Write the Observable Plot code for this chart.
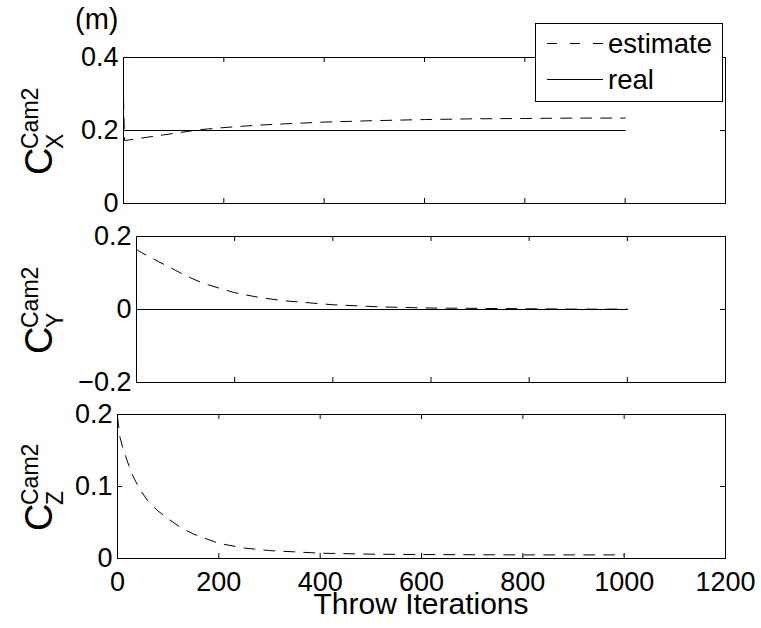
<!DOCTYPE html>
<html>
<head>
<meta charset="utf-8">
<script src="https://cdn.jsdelivr.net/npm/d3@7"></script>
<script src="https://cdn.jsdelivr.net/npm/@observablehq/plot@0.6"></script>
<style>
  html, body { margin: 0; padding: 0; background: #fff; }
  #fig { position: relative; width: 761px; height: 628px; background: #fff; overflow: hidden;
         font-family: "Liberation Sans", Arial, Helvetica, sans-serif; }
  #fig svg { position: absolute; left: 0; top: 0; }
</style>
</head>
<body>
<div id="fig"></div>
<script>
// ---------------- data ----------------
const iters = [0, 2, 5, 10, 20, 30, 45, 60, 80, 100, 125, 150, 200, 250, 300, 400, 500, 600, 700, 800, 900, 1000];
const estX  = [0.29, 0.173, 0.173, 0.174, 0.176, 0.178, 0.181, 0.184, 0.188, 0.192, 0.197, 0.202, 0.208, 0.213, 0.217, 0.223, 0.227, 0.230, 0.232, 0.233, 0.234, 0.234];
const estY  = [0.165, 0.163, 0.160, 0.156, 0.149, 0.142, 0.131, 0.121, 0.107, 0.093, 0.078, 0.066, 0.046, 0.033, 0.024, 0.013, 0.007, 0.004, 0.003, 0.002, 0.001, 0.001];
const estZ  = [0.197, 0.185, 0.168, 0.155, 0.134, 0.115, 0.095, 0.080, 0.066, 0.055, 0.043, 0.034, 0.021, 0.0145, 0.011, 0.0074, 0.006, 0.0055, 0.0052, 0.005, 0.005, 0.005];
const realIters = [0, 1000];
const realX = [0.2, 0.2];
const realY = [0, 0];
const realZ = [0, 0];

const xTicks = [0, 200, 400, 600, 800, 1000, 1200];
const xTickLabels = ["0", "200", "400", "600", "800", "1000", "1200"];
const yTicksX = [0, 0.2, 0.4];
const yTickLabelsX = ["0", "0.2", "0.4"];
const yTicksY = [-0.2, 0, 0.2];
const yTickLabelsY = ["\u22120.2", "0", "0.2"];
const yTicksZ = [0, 0.1, 0.2];
const yTickLabelsZ = ["0", "0.1", "0.2"];

const seriesNames = ["estimate", "real"];
const axisSubs = ["X", "Y", "Z"];
const axisSup = "Cam2";
const unitLabel = "(m)";
const xLabel = "Throw Iterations";

// ---------------- layout ----------------
const W = 761, H = 628;
const FONT = '"Liberation Sans", Arial, Helvetica, sans-serif';
const DASH = "11,9";
const TICK = 5;

const panels = [
  {est: estX, real: realX, domain: [0, 0.4], ticks: yTicksX, labels: yTickLabelsX, top: 57, bottom: 203, left: 123, xaxis: false},
  {est: estY, real: realY, domain: [-0.2, 0.2], ticks: yTicksY, labels: yTickLabelsY, top: 236, bottom: 382, left: 136, xaxis: false},
  {est: estZ, real: realZ, domain: [0, 0.2], ticks: yTicksZ, labels: yTickLabelsZ, top: 414, bottom: 558, left: 117, xaxis: true}
];
const RIGHT = 725;

const fig = document.getElementById("fig");

panels.forEach((p) => {
  const fw = RIGHT - p.left, fh = p.bottom - p.top;
  const estData = iters.map((x, i) => ({x, y: p.est[i]}));
  const realData = realIters.map((x, i) => ({x, y: p.real[i]}));
  const marks = [
    Plot.line(realData, {x: "x", y: "y", stroke: "black", strokeWidth: 1}),
    Plot.line(estData, {x: "x", y: "y", stroke: "black", strokeWidth: 1, strokeDasharray: DASH}),
    // inward ticks (MATLAB style box with ticks on all sides)
    Plot.tickY(p.ticks, {y: d => d, stroke: "black", insetRight: fw - TICK}),
    Plot.tickY(p.ticks, {y: d => d, stroke: "black", insetLeft: fw - TICK}),
    Plot.tickX(xTicks, {x: d => d, stroke: "black", insetBottom: fh - TICK}),
    Plot.tickX(xTicks, {x: d => d, stroke: "black", insetTop: fh - TICK}),
    Plot.frame({stroke: "black", strokeWidth: 1}),
    Plot.axisY(p.ticks, {anchor: "left", tickSize: 0, tickPadding: 5, fontSize: 27, label: null,
      tickFormat: (d) => p.labels[p.ticks.indexOf(d)]})
  ];
  if (p.xaxis) {
    marks.push(Plot.axisX(xTicks, {anchor: "bottom", tickSize: 0, tickPadding: 13, fontSize: 27, label: null,
      tickFormat: (d) => xTickLabels[xTicks.indexOf(d)]}));
  }
  const chart = Plot.plot({
    width: W, height: H,
    marginTop: p.top, marginBottom: H - p.bottom, marginLeft: p.left, marginRight: W - RIGHT,
    x: {domain: [0, 1200], axis: null},
    y: {domain: p.domain, axis: null},
    style: {background: "transparent", color: "black", fontFamily: FONT, overflow: "visible"},
    marks
  });
  fig.appendChild(chart);
});

// ---------------- overlay: axis titles and legend ----------------
const ov = d3.select(fig).append("svg")
  .attr("width", W).attr("height", H)
  .style("font-family", FONT).style("overflow", "visible");

// y labels C^{Cam2}_{X/Y/Z}
panels.forEach((p, i) => {
  const cy = (p.top + p.bottom) / 2 + 45;
  const g = ov.append("g").attr("transform", `translate(52,${cy}) rotate(-90)`);
  g.append("text").attr("x", 0).attr("y", 0).attr("font-size", 38).attr("fill", "black").text("C");
  g.append("text").attr("x", 26).attr("y", -14).attr("font-size", 23).attr("fill", "black").text(axisSup);
  g.append("text").attr("x", 26).attr("y", 11).attr("font-size", 23).attr("fill", "black").text(axisSubs[i]);
});

// unit label
ov.append("text").attr("x", 75).attr("y", 29).attr("font-size", 29).attr("fill", "black").text(unitLabel);

// x label
ov.append("text").attr("x", (panels[2].left + RIGHT) / 2).attr("y", 614)
  .attr("text-anchor", "middle").attr("font-size", 30).attr("fill", "black").text(xLabel);

// legend
const lg = ov.append("g");
lg.append("rect").attr("x", 535.5).attr("y", 23.5).attr("width", 187).attr("height", 78)
  .attr("fill", "white").attr("stroke", "black").attr("stroke-width", 1);
const rowsY = [43, 79];
seriesNames.forEach((name, i) => {
  lg.append("line").attr("x1", 547).attr("x2", 603).attr("y1", rowsY[i] + 0.5).attr("y2", rowsY[i] + 0.5)
    .attr("stroke", "black").attr("stroke-width", 1)
    .attr("stroke-dasharray", i === 0 ? "10,13" : null);
  lg.append("text").attr("x", 608).attr("y", rowsY[i] + 10).attr("font-size", 27.5).attr("fill", "black").text(name);
});
</script>
</body>
</html>
